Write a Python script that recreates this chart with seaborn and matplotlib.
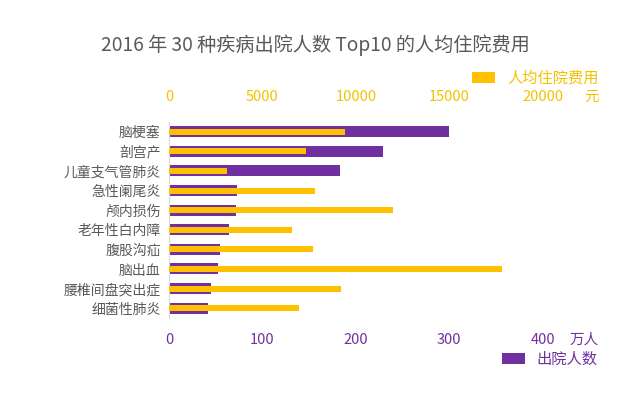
import pandas as pd
import matplotlib
matplotlib.use("Agg")
import matplotlib.pyplot as plt
import seaborn as sns

diseases = ["脑梗塞", "剖宫产", "儿童支气管肺炎", "急性阑尾炎", "颅内损伤",
            "老年性白内障", "腹股沟疝", "脑出血", "腰椎间盘突出症", "细菌性肺炎"]
patients = [300, 229, 183, 73, 72, 64, 55, 53, 45, 42]          # 万人
cost = [9400, 7330, 3080, 7800, 12000, 6560, 7720, 17800, 9200, 6970]  # 元

purple = "#7030A0"
yellow = "#FFC000"
grey = "#595959"

df = pd.DataFrame({"disease": diseases, "patients": patients, "cost": cost})

sns.set_theme(style="white")
plt.rcParams["font.family"] = ["Noto Sans CJK SC", "DejaVu Sans"]

fig = plt.figure(figsize=(6.4, 3.96), dpi=100)
ax = fig.add_axes([0.264, 0.197, 0.584, 0.495])

sns.barplot(data=df, x="patients", y="disease", orient="h", color=purple,
            width=0.56, saturation=1, linewidth=0, ax=ax)
ax.set_xlim(0, 400)
ax.set_xticks([0, 100, 200, 300, 400])

ax2 = ax.twiny()
sns.barplot(data=df, x="cost", y="disease", orient="h", color=yellow,
            width=0.3, saturation=1, linewidth=0, ax=ax2)
ax2.set_xlim(0, 20000)
ax2.set_xticks([0, 5000, 10000, 15000, 20000])

for a in (ax, ax2):
    a.set_xlabel("")
    a.set_ylabel("")
    for s in a.spines.values():
        s.set_visible(False)
ax.spines["left"].set_visible(True)
ax.spines["left"].set_color("#d9d9d9")
ax.spines["left"].set_linewidth(0.8)

ax.tick_params(axis="x", length=0, pad=11, labelsize=10.5, labelcolor=purple)
ax2.tick_params(axis="x", length=0, pad=13, labelsize=10.5, labelcolor="#F2C200")
ax.tick_params(axis="y", length=0, pad=6, labelsize=10, labelcolor=grey)
ax2.tick_params(axis="y", length=0)

fig.text(0.493, 0.886, "2016 年 30 种疾病出院人数 Top10 的人均住院费用",
         ha="center", va="center", fontsize=13.8, color=grey)
fig.text(592 / 640, 1 - 97 / 396, "元", ha="center", va="center",
         fontsize=10.5, color="#F2C200")
fig.text(584 / 640, 1 - 340 / 396, "万人", ha="center", va="center",
         fontsize=10.5, color=purple)

fig.legend(handles=[ax2.patches[0]], labels=["人均住院费用"],
           loc="center", bbox_to_anchor=(0.836, 0.803), frameon=False,
           fontsize=11, handlelength=1.5, handleheight=0.7,
           handletextpad=0.8, labelcolor="#F2C200")
fig.legend(handles=[ax.patches[0]], labels=["出院人数"],
           loc="center", bbox_to_anchor=(0.859, 0.093), frameon=False,
           fontsize=11, handlelength=1.5, handleheight=0.7,
           handletextpad=0.8, labelcolor=purple)

fig.savefig("out.png", dpi=100)
